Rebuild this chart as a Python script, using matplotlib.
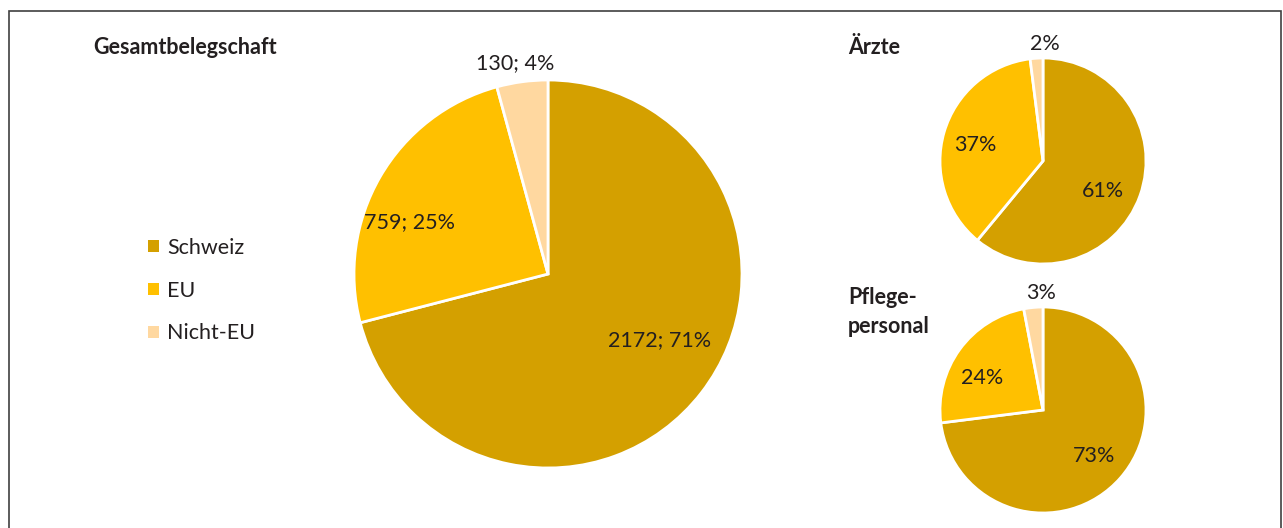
import matplotlib.pyplot as plt
from matplotlib.patches import Rectangle

# Herkunft der Belegschaft
categories = ["Schweiz", "EU", "Nicht-EU"]
gesamt_counts = [2172, 759, 130]
aerzte_pct = [61, 37, 2]
pflege_pct = [73, 24, 3]

colors = ["#D4A000", "#FFC000", "#FFD8A0"]
text_color = "#231F20"

plt.rcParams["font.family"] = ["Lato", "DejaVu Sans"]

W, H = 1283, 528
fig = plt.figure(figsize=(W / 100, H / 100), dpi=100)
ax = fig.add_axes([0, 0, 1, 1])


def draw_pie(values, center, radius):
    wedges, _ = ax.pie(values, colors=colors, startangle=90, counterclock=False,
                       center=center, radius=radius,
                       wedgeprops=dict(edgecolor="white", linewidth=2))
    return wedges


def px(x, y):
    return x, H - y


LABEL_SIZE = 15.5
TITLE_SIZE = 15.5

# Gesamtbelegschaft
total = sum(gesamt_counts)
main_wedges = draw_pie(gesamt_counts, px(548, 274), 194)
main_labels = [f"{v}; {round(v / total * 100)}%" for v in gesamt_counts]
for (x, y), lab in zip([(660, 340), (410, 222), (515, 63)], main_labels):
    ax.text(*px(x, y), lab, ha="center", va="center", fontsize=LABEL_SIZE, color=text_color)

# Ärzte
draw_pie(aerzte_pct, px(1043, 161), 103)
for (x, y), v in zip([(1103, 191), (975, 145), (1045, 44)], aerzte_pct):
    ax.text(*px(x, y), f"{v}%", ha="center", va="center", fontsize=LABEL_SIZE, color=text_color)

# Pflegepersonal
draw_pie(pflege_pct, px(1043, 410), 103)
for (x, y), v in zip([(1094, 456), (982, 378), (1041, 293)], pflege_pct):
    ax.text(*px(x, y), f"{v}%", ha="center", va="center", fontsize=LABEL_SIZE, color=text_color)

# pie() resets the limits, so fix the pixel frame afterwards
ax.set_xlim(0, W)
ax.set_ylim(0, H)
ax.set_aspect("equal")
ax.axis("off")

# frame (bottom edge runs off the image)
ax.add_patch(Rectangle((9, -20), 1272, H - 11 + 20, fill=False,
                       edgecolor="#3F3F3F", linewidth=1.2))

# titles
ax.text(*px(93, 48), "Gesamtbelegschaft", ha="left", va="center",
        fontsize=TITLE_SIZE, fontweight="bold", color=text_color)
ax.text(*px(848, 48), "Ärzte", ha="left", va="center",
        fontsize=TITLE_SIZE, fontweight="bold", color=text_color)
ax.text(*px(848, 312), "Pflege-\npersonal", ha="left", va="center",
        fontsize=TITLE_SIZE, fontweight="bold", color=text_color, linespacing=1.5)

leg = ax.legend(main_wedges, categories, loc="upper left",
                bbox_to_anchor=(137 / W, 1 - 227 / H), frameon=False,
                fontsize=LABEL_SIZE, handlelength=0.5, handleheight=0.5,
                handletextpad=0.4, labelspacing=1.06, borderpad=0)
for t in leg.get_texts():
    t.set_color(text_color)
for h in leg.legend_handles:
    h.set_edgecolor("none")

fig.savefig("out.png", dpi=100)
